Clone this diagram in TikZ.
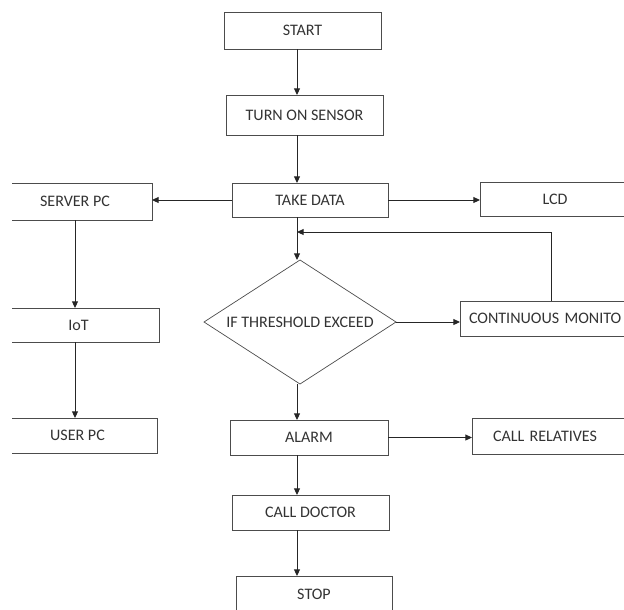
\documentclass[tikz,border=0pt]{standalone}
\usepackage{fontspec}
\setmainfont{Carlito}
\usetikzlibrary{arrows.meta, shapes.geometric}

\begin{document}
\begin{tikzpicture}[x=0.03cm, y=-0.03cm,
        box/.style={draw=black!70, line width=0.6pt, inner sep=0pt, outer sep=0pt, text=black!80, font=\fontsize{13.7}{16}\selectfont},
        flow/.style={-{Triangle[length=2mm, width=1.8mm]}, line width=0.8pt, black!85}]
        \path[use as bounding box] (0,0) rectangle (624,609);
        \clip (12,0) rectangle (624,609);

        \coordinate (spine) at (297, 0);
        \coordinate (lspine) at (75, 0);
        \coordinate (up) at (551, 232);
        \coordinate (loop) at (297, 232);

        \node[box, minimum width=4.71cm, minimum height=1.11cm] (start) at (302.5, 30.5) {START};
        \node[box, minimum width=4.71cm, minimum height=1.2cm] (sensor) at (304.5, 115) {TURN ON SENSOR};
        \node[box, minimum width=4.68cm, minimum height=1.02cm] (data) at (310, 200) {TAKE DATA};
        \node[box, minimum width=4.62cm, minimum height=1.11cm] (server) at (75, 201.5) {SERVER PC};
        \node[box, minimum width=4.5cm, minimum height=1.02cm] (lcd) at (555, 199) {LCD};
        \node[box, diamond, aspect=1.55, minimum width=5.76cm, minimum height=3.72cm] (dec) at (300, 322) {IF THRESHOLD EXCEED};
        \node[box, anchor=west, minimum height=1.05cm, text width=5.5cm, inner xsep=0.27cm, align=left] (cont) at (460, 318.5) {CONTINUOUS MONITO};
        \node[box, minimum width=4.83cm, minimum height=1.02cm] (iot) at (78.5, 325) {IoT};
        \node[box, minimum width=4.77cm, minimum height=1.05cm] (user) at (77.5, 435.5) {USER PC};
        \node[box, minimum width=4.74cm, minimum height=1.05cm] (alarm) at (309, 437.5) {ALARM};
        \node[box, anchor=west, minimum height=1.08cm, text width=4.5cm, inner xsep=0.63cm, align=left] (relatives) at (472, 436) {CALL RELATIVES};
        \node[box, minimum width=4.71cm, minimum height=1.05cm] (doctor) at (310.5, 512.5) {CALL DOCTOR};
        \node[box, minimum width=4.68cm, minimum height=1.08cm] (stop) at (314, 594) {STOP};

        \draw[flow] (start.south -| spine) -- (sensor.north -| spine);
        \draw[flow] (sensor.south -| spine) -- (data.north -| spine);
        \draw[flow] (data.south -| spine) -- (dec.north -| spine);
        \draw[flow] (dec.south -| spine) -- (alarm.north -| spine);
        \draw[flow] (alarm.south -| spine) -- (doctor.north -| spine);
        \draw[flow] (doctor.south -| spine) -- (stop.north -| spine);
        \draw[flow] (data.west) -- (data.west -| server.east);
        \draw[flow] (data.east) -- (data.east -| lcd.west);
        \draw[flow] (server.south -| lspine) -- (iot.north -| lspine);
        \draw[flow] (iot.south -| lspine) -- (user.north -| lspine);
        \draw[flow] (dec.east) -- (dec.east -| cont.west);
        \draw[flow] (cont.north -| up) -- (up) -- (loop);
        \draw[flow] (alarm.east) -- (alarm.east -| relatives.west);
\end{tikzpicture}
\end{document}
